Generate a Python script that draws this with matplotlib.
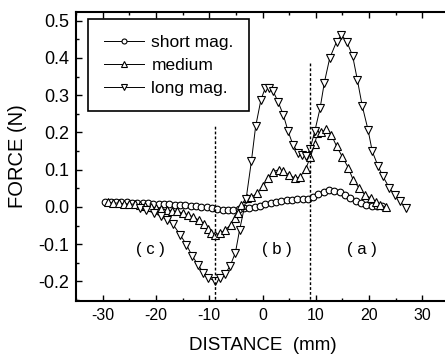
import matplotlib
matplotlib.use("Agg")
import matplotlib.pyplot as plt
from matplotlib.ticker import MultipleLocator

plt.rcParams["font.family"] = ["Liberation Sans", "DejaVu Sans"]
plt.rcParams["axes.unicode_minus"] = False

# short magnet (circles)
short_x = [-29.5, -28.5, -27.5, -26.5, -25.5, -24.5, -23.5, -22.5, -21.5, -20.5,
           -19.5, -18.5, -17.5, -16.5, -15.5, -14.5, -13.5, -12.5, -11.5, -10.5,
           -9.5, -8.5, -7.5, -6.5, -5.5, -4.5, -3.5, -2.5, -1.5, -0.5,
           0.5, 1.5, 2.5, 3.5, 4.5, 5.5, 6.5, 7.5, 8.5, 9.5,
           10.5, 11.5, 12.5, 13.5, 14.5, 15.5, 16.5, 17.5, 18.5, 19.5,
           20.5, 21.5, 22.5]
short_f = [0.013, 0.013, 0.012, 0.012, 0.012, 0.011, 0.011, 0.010, 0.010, 0.009,
           0.008, 0.008, 0.007, 0.006, 0.005, 0.004, 0.003, 0.002, 0.001, -0.001,
           -0.003, -0.005, -0.008, -0.008, -0.007, -0.005, -0.003, -0.002, 0.000, 0.003,
           0.007, 0.010, 0.013, 0.016, 0.018, 0.019, 0.020, 0.020, 0.021, 0.026,
           0.034, 0.041, 0.046, 0.044, 0.039, 0.032, 0.024, 0.016, 0.010, 0.005,
           0.002, 0.002, 0.003]

# medium magnet (up triangles)
medium_x = [-29, -28, -27, -26, -25, -24, -23, -22, -21, -20,
            -19, -18, -17, -16, -15, -14, -13, -12, -11, -10.3,
            -9.6, -8.9, -8.0, -7.0, -6.0, -5.2, -4.6, -4.0, -3.0, -2.1,
            -1.0, 0.1, 1.05, 2.0, 3.1, 3.9, 5.0, 6.1, 7.0, 8.1,
            9.0, 9.8, 10.3, 11.0, 12.0, 12.9, 13.9, 15.0, 16.1, 17.0,
            18.1, 19.2, 20.3, 21.3, 22.1, 23.1]
medium_f = [0.012, 0.011, 0.010, 0.009, 0.008, 0.007, 0.005, 0.003, 0.001, -0.002,
            -0.005, -0.008, -0.010, -0.012, -0.016, -0.021, -0.027, -0.035, -0.046, -0.058,
            -0.070, -0.074, -0.071, -0.062, -0.048, -0.031, -0.017, 0.005, 0.024, 0.026,
            0.037, 0.055, 0.078, 0.095, 0.100, 0.096, 0.085, 0.078, 0.080, 0.102,
            0.135, 0.170, 0.198, 0.200, 0.209, 0.194, 0.163, 0.134, 0.105, 0.073,
            0.051, 0.033, 0.024, 0.012, 0.006, 0.000]

# long magnet (down triangles)
long_x = [-23.0, -21.8, -20.4, -19.1, -18.0, -16.8, -15.5, -14.3, -13.2, -12.1,
          -11.1, -10.2, -8.9, -8.0, -7.1, -6.1, -5.1, -4.3, -3.1, -2.1,
          -1.3, -0.3, 0.5, 1.3, 2.0, 2.9, 3.9, 4.8, 5.7, 6.7,
          7.4, 8.2, 8.9, 9.8, 10.8, 11.6, 12.6, 13.9, 14.8, 15.8,
          16.9, 17.8, 18.7, 19.8, 20.6, 21.7, 22.6, 23.8, 24.8, 25.8,
          26.9]
long_f = [-0.003, -0.009, -0.016, -0.025, -0.034, -0.047, -0.074, -0.101, -0.132, -0.155,
          -0.177, -0.190, -0.199, -0.190, -0.181, -0.159, -0.123, -0.061, 0.020, 0.122,
          0.216, 0.288, 0.319, 0.318, 0.310, 0.283, 0.247, 0.203, 0.167, 0.145,
          0.140, 0.136, 0.155, 0.203, 0.265, 0.334, 0.399, 0.444, 0.462, 0.444,
          0.406, 0.341, 0.272, 0.207, 0.149, 0.109, 0.082, 0.051, 0.033, 0.015,
          -0.003]

region_x = [-9, 9]
region_top = [0.218, 0.39]
region_labels = ["( c )", "( b )", "( a )"]
region_label_x = [-21, 2.6, 18.6]

fig = plt.figure(figsize=(4.45, 3.56), dpi=100)
ax = fig.add_axes([0.171, 0.155, 0.838, 0.812])

ms = 4.8
ax.plot(short_x, short_f, "-", color="black", lw=0.7, marker="o", ms=ms,
        mfc="white", mec="black", mew=0.8, label="short mag.")
ax.plot(medium_x, medium_f, "-", color="black", lw=0.7, marker="^", ms=ms + 0.5,
        mfc="white", mec="black", mew=0.8, label="medium")
ax.plot(long_x, long_f, "-", color="black", lw=0.7, marker="v", ms=ms + 0.5,
        mfc="white", mec="black", mew=0.8, label="long mag.")

for xv, top in zip(region_x, region_top):
    ax.plot([xv, xv], [-0.26, top], color="black", lw=1.0, ls=(0, (2, 1.5)))

for lab, xv in zip(region_labels, region_label_x):
    ax.text(xv, -0.115, lab, ha="center", va="center", fontsize=12)

ax.set_xlim(-35, 35)
ax.set_ylim(-0.252, 0.524)
ax.xaxis.set_major_locator(MultipleLocator(10))
ax.xaxis.set_minor_locator(MultipleLocator(5))
ax.yaxis.set_major_locator(MultipleLocator(0.1))
ax.yaxis.set_minor_locator(MultipleLocator(0.05))
ax.yaxis.set_major_formatter(plt.FuncFormatter(lambda v, p: f"{v:.1f}".replace("-0.0", "0.0")))
ax.xaxis.set_major_formatter(plt.FuncFormatter(lambda v, p: f"{v:.0f}"))

ax.tick_params(which="both", direction="in", top=True, right=False, width=1.0)
ax.tick_params(axis="x", labelsize=11.5)
ax.tick_params(axis="y", labelsize=13)
ax.tick_params(which="major", length=4, pad=5)
ax.tick_params(which="minor", length=2.5)
for s in ax.spines.values():
    s.set_linewidth(1.5)

ax.set_xlabel("DISTANCE  (mm)", fontsize=13.5, labelpad=10)
ax.set_ylabel("FORCE (N)", fontsize=14.5, labelpad=8)

leg = ax.legend(loc="upper left", bbox_to_anchor=(0.032, 0.975), borderaxespad=0,
                fontsize=12.5, handlelength=2.3, handletextpad=0.45, borderpad=0.9,
                labelspacing=0.45, fancybox=False, edgecolor="black",
                framealpha=1, markerscale=0.75)
leg.get_frame().set_linewidth(1.2)

fig.savefig("out.png", dpi=100)
